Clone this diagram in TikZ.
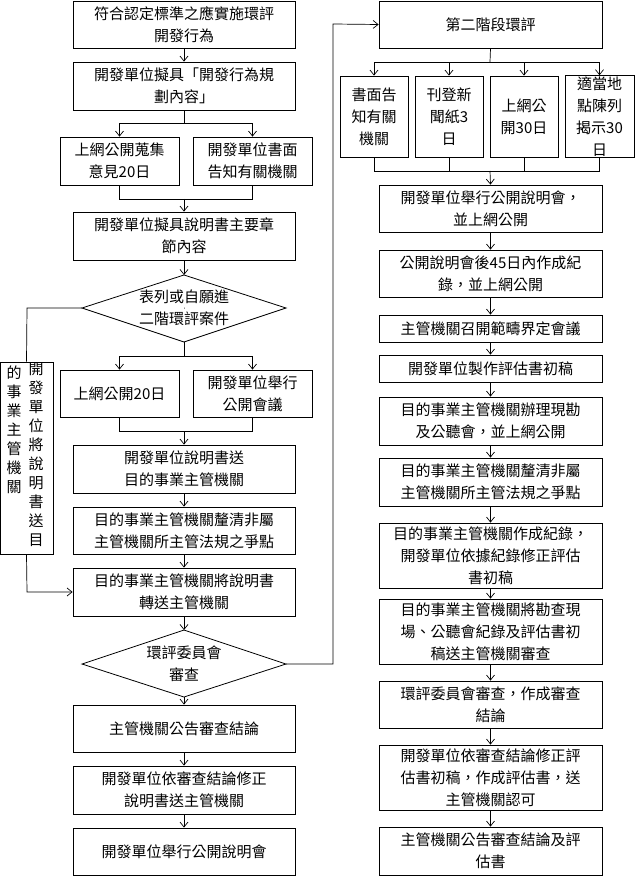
\documentclass[tikz,border=0pt]{standalone}
\usepackage{fontspec}
\setmainfont{Noto Sans CJK TC}
\usetikzlibrary{arrows.meta,shapes.geometric}
\begin{document}
\begin{tikzpicture}[x=1pt,y=-1pt,
  bx/.style={draw,line width=0.8pt,align=center,inner sep=1pt,font=\fontsize{15}{22}\selectfont},
  dm/.style={draw,line width=0.8pt,diamond,aspect=3,align=center,inner sep=0pt,font=\fontsize{15}{22}\selectfont},
  ar/.style={-{Straight Barb[length=5pt,width=8pt]},line width=0.7pt},
  ln/.style={line width=0.7pt}]
\useasboundingbox (0,0) rectangle (635,877);
\newcommand\bxat[6]{\node[bx,minimum width=#3-#2,minimum height=#5-#4] (#1) at ({(#2+#3)/2},{(#4+#5)/2}) {#6};}
% left column
\bxat{a1}{73}{295}{1}{48}{符合認定標準之應實施環評\\開發行為}
\bxat{a2}{73}{295}{62}{110}{開發單位擬具「開發行為規\\劃內容」}
\bxat{a3l}{60}{179}{137}{185}{上網公開蒐集\\意見20日}
\bxat{a3r}{193}{312}{137}{185}{開發單位書面\\告知有關機關}
\bxat{a4}{73}{295}{212}{260}{開發單位擬具說明書主要章\\節內容}
\node[draw,line width=0.8pt,minimum width=0,inner sep=0] (d1) at (184,308) {};
\draw[line width=0.8pt] (82,308) coordinate (d1w) -- (184,275) coordinate (d1n) -- (286,308) coordinate (d1e) -- (184,342) coordinate (d1s) -- cycle;
\node[align=center,font=\fontsize{15}{22}\selectfont] (d1t) at (184,308) {表列或自願進\\二階環評案件};
\bxat{a5l}{60}{179}{370}{417}{上網公開20日}
\bxat{a5r}{193}{312}{370}{417}{開發單位舉行\\公開會議}
\bxat{a6}{73}{295}{445}{493}{開發單位說明書送\\目的事業主管機關}
\bxat{a7}{73}{295}{507}{554}{目的事業主管機關釐清非屬\\主管機關所主管法規之爭點}
\bxat{a8}{73}{295}{568}{616}{目的事業主管機關將說明書\\轉送主管機關}
\draw[line width=0.8pt] (82,664) coordinate (d2w) -- (184,630) coordinate (d2n) -- (286,664) coordinate (d2e) -- (184,697) coordinate (d2s) -- cycle;
\node[align=center,font=\fontsize{15}{22}\selectfont] (d2t) at (184,664) {環評委員會\\審查};
\bxat{a9}{73}{295}{705}{752}{主管機關公告審查結論}
\bxat{a10}{73}{295}{766}{814}{開發單位依審查結論修正\\說明書送主管機關}
\bxat{a11}{73}{295}{828}{875}{開發單位舉行公開說明會}
% side box
\node[draw,line width=0.8pt,minimum width=53pt,minimum height=192pt,inner sep=0] (sb) at (26.5,458) {};
\node[font=\fontsize{15}{19}\selectfont,align=center] (sbr) at (36,455) {開\\發\\單\\位\\將\\說\\明\\書\\送\\目};
\node[font=\fontsize{15}{19}\selectfont,align=center] (sbl) at (14,430) {的\\事\\業\\主\\管\\機\\關};
% right column
\bxat{b1}{379}{602}{1}{48}{第二階段環評}
\bxat{b2a}{340}{408}{76}{157}{書面告\\知有關\\機關}
\bxat{b2b}{415}{483}{76}{157}{刊登新\\聞紙3\\日}
\bxat{b2c}{490}{558}{76}{157}{上網公\\開30日}
\bxat{b2d}{565}{634}{76}{157}{適當地\\點陳列\\揭示30\\日}
\bxat{b3}{379}{602}{185}{232}{開發單位舉行公開說明會，\\並上網公開}
\bxat{b4}{379}{602}{250}{297}{公開說明會後45日內作成紀\\錄，並上網公開}
\bxat{b5}{379}{602}{315}{342}{主管機關召開範疇界定會議}
\bxat{b6}{379}{602}{355}{382}{開發單位製作評估書初稿}
\bxat{b7}{379}{602}{397}{445}{目的事業主管機關辦理現勘\\及公聽會，並上網公開}
\bxat{b8}{379}{602}{458}{506}{目的事業主管機關釐清非屬\\主管機關所主管法規之爭點}
\bxat{b9}{379}{602}{523}{588}{目的事業主管機關作成紀錄，\\開發單位依據紀錄修正評估\\書初稿}
\bxat{b10}{379}{602}{599}{664}{目的事業主管機關將勘查現\\場、公聽會紀錄及評估書初\\稿送主管機關審查}
\bxat{b11}{379}{602}{681}{728}{環評委員會審查，作成審查\\結論}
\bxat{b12}{379}{602}{745}{810}{開發單位依審查結論修正評\\估書初稿，作成評估書，送\\主管機關認可}
\bxat{b13}{379}{602}{827}{875}{主管機關公告審查結論及評\\估書}
% connectors left
\draw[ar] (a1) -- (a2);
\draw[ln] (a2.south) -- ++(0,13) coordinate (s1);
\draw[ar] (s1) -| (a3l.north);
\draw[ar] (s1) -| (a3r.north);
\draw[ln] (a3l.south) -- ++(0,14) -| (a3r.south);
\draw[ar] (184,199) -- (a4.north);
\draw[ar] (a4) -- (d1n);
\draw[ln] (d1s) -- (184,356) coordinate (s2);
\draw[ar] (s2) -| (a5l.north);
\draw[ar] (s2) -| (a5r.north);
\draw[ln] (a5l.south) -- ++(0,14) -| (a5r.south);
\draw[ar] (184,431) -- (a6.north);
\draw[ar] (a6) -- (a7);
\draw[ar] (a7) -- (a8);
\draw[ar] (a8) -- (d2n);
\draw[ar] (d2s) -- (a9);
\draw[ar] (a9) -- (a10);
\draw[ar] (a10) -- (a11);
\draw[ln] (d1w) -- (27,308) -- (sb.north);
\draw[ar] (sb.south) -- (27,592) -- (a8.west);
\draw[ar] (d2e) -- (333,664) -- (333,24) -- (b1.west);
% connectors right
\draw[ln] (b1.south) -- (490,62) coordinate (s3);
\foreach \n in {b2a,b2b,b2c,b2d} \draw[ar] (s3) -| (\n.north);
\draw[ln] (b2a.south) -- (374,171) -| (b2d.south);
\draw[ln] (b2b.south) -- (449,171);
\draw[ln] (b2c.south) -- (524,171);
\draw[ar] (490,171) -- (b3.north);
\draw[ar] (b3) -- (b4);
\draw[ar] (b4) -- (b5);
\draw[ar] (b5) -- (b6);
\draw[ar] (b6) -- (b7);
\draw[ar] (b7) -- (b8);
\draw[ar] (b8) -- (b9);
\draw[ar] (b9) -- (b10);
\draw[ar] (b10) -- (b11);
\draw[ar] (b11) -- (b12);
\draw[ar] (b12) -- (b13);
\end{tikzpicture}
\end{document}
